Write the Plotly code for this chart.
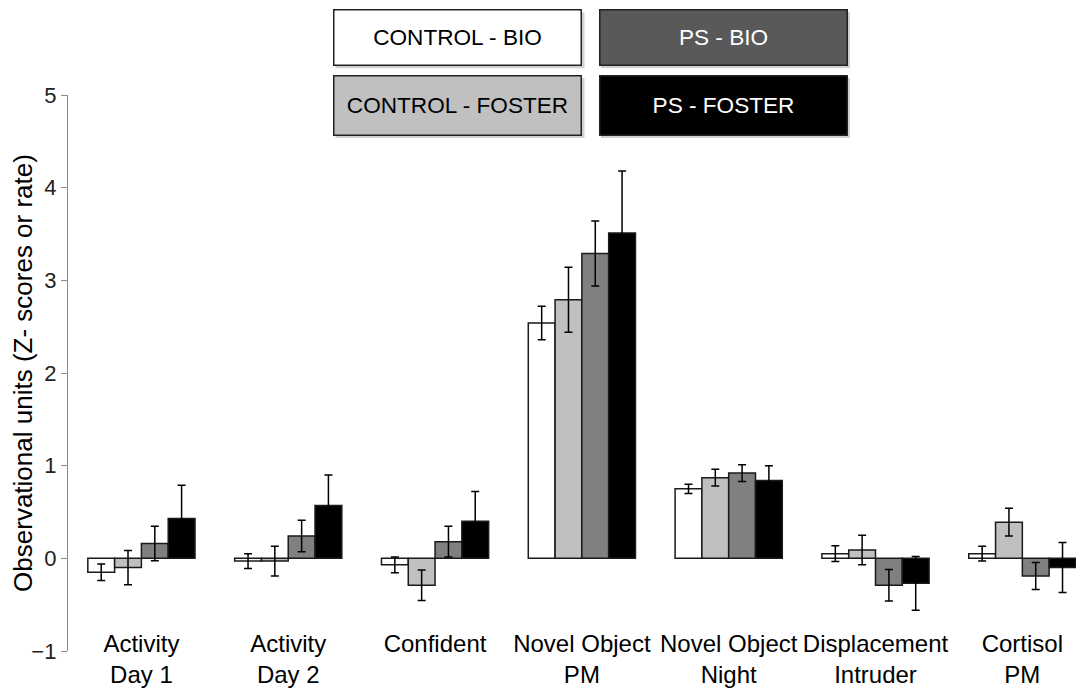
import plotly.graph_objects as go

categories = ["Activity<br>Day 1", "Activity<br>Day 2", "Confident", "Novel Object<br>PM",
              "Novel Object<br>Night", "Displacement<br>Intruder", "Cortisol<br>PM"]

groups = ["CONTROL - BIO", "CONTROL - FOSTER", "PS - BIO", "PS - FOSTER"]

control_bio = [-0.15, -0.03, -0.07, 2.54, 0.75, 0.05, 0.05]
control_bio_err = [0.09, 0.08, 0.085, 0.18, 0.05, 0.085, 0.08]
control_foster = [-0.10, -0.03, -0.29, 2.79, 0.87, 0.09, 0.39]
control_foster_err = [0.185, 0.16, 0.165, 0.35, 0.09, 0.16, 0.15]
ps_bio = [0.16, 0.24, 0.18, 3.29, 0.92, -0.29, -0.19]
ps_bio_err = [0.185, 0.17, 0.165, 0.35, 0.09, 0.17, 0.145]
ps_foster = [0.43, 0.57, 0.40, 3.51, 0.84, -0.27, -0.10]
ps_foster_err = [0.36, 0.33, 0.32, 0.67, 0.16, 0.29, 0.27]

bar_colors = ["#ffffff", "#c0c0c0", "#808080", "#000000"]
key_colors = ["#ffffff", "#c0c0c0", "#595959", "#000000"]
key_text = ["#000000", "#000000", "#ffffff", "#ffffff"]

series = [control_bio, control_foster, ps_bio, ps_foster]
errors = [control_bio_err, control_foster_err, ps_bio_err, ps_foster_err]

FONT = "Liberation Sans, Arial, sans-serif"

fig = go.Figure()
for name, vals, errs, col in zip(groups, series, errors, bar_colors):
    fig.add_trace(go.Bar(
        x=categories, y=vals, name=name,
        marker=dict(color=col, line=dict(color="#1a1a1a", width=1.5)),
        error_y=dict(type="data", array=errs, visible=True,
                     color="#000000", thickness=1.5, width=4),
        showlegend=False,
    ))

# key boxes at the top, 2x2 like the original
key_pos = [(0.3834, 1.104, 52), (0.3834, 0.982, 56), (0.6447, 1.104, 52), (0.6447, 0.982, 56)]
for lab, (px, py, h), bg, tc in zip(groups, key_pos, key_colors, key_text):
    # soft drop shadow behind each box
    fig.add_shape(
        type="rect", xref="paper", yref="paper", xsizemode="pixel", ysizemode="pixel",
        xanchor=px, yanchor=py, x0=-122, x1=127, y0=-(h / 2 + 5), y1=h / 2 - 1,
        fillcolor="rgba(0,0,0,0.18)", line=dict(width=0), layer="above",
    )
    fig.add_annotation(
        x=px, y=py, xref="paper", yref="paper", text=lab, showarrow=False,
        width=244, height=h, bgcolor=bg, bordercolor="#222222", borderwidth=1.5,
        borderpad=1, font=dict(family=FONT, size=22.6, color=tc),
        xanchor="center", yanchor="middle",
    )

# page body adds 8px offset, so margins are shifted by -8
fig.update_layout(
    width=1084, height=691,
    margin=dict(l=60, r=8, t=87, b=48),
    paper_bgcolor="white", plot_bgcolor="white",
    barmode="group", bargap=0.27, bargroupgap=0,
    font=dict(family=FONT, size=22, color="#000000"),
)
fig.update_xaxes(
    range=[-0.5, 6.42], showgrid=False, zeroline=False, showline=False,
    ticks="", anchor="free", position=0.044, automargin=False,
    tickfont=dict(family=FONT, size=24, color="#000000"),
)
fig.update_yaxes(
    range=[-1, 5], dtick=1, showgrid=False, zeroline=False, automargin=False,
    showline=True, linecolor="#8a8a8a", linewidth=1.3,
    ticks="outside", ticklen=6, tickcolor="#8a8a8a", tickwidth=1.3,
    tickfont=dict(family=FONT, size=22, color="#222222"),
    title=dict(text="Observational units (Z- scores or rate)",
               font=dict(family=FONT, size=26, color="#000000"), standoff=0),
)

fig.write_html("out.html")
